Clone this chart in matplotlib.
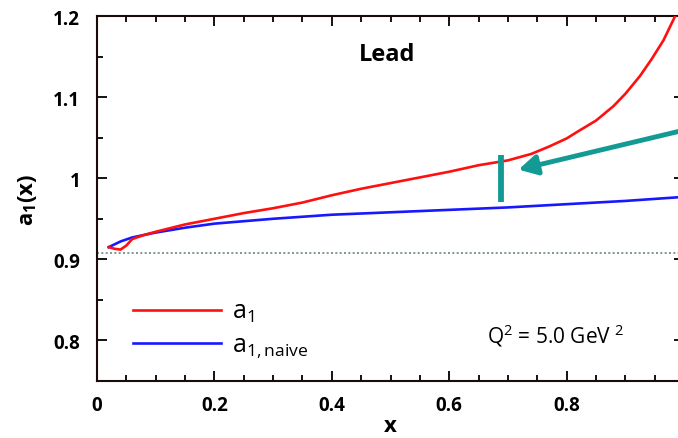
import matplotlib
matplotlib.use("Agg")
import matplotlib.pyplot as plt
from matplotlib.ticker import MultipleLocator, FixedLocator, FixedFormatter

plt.rcParams['font.family'] = ['Open Sans', 'DejaVu Sans']
plt.rcParams['mathtext.fontset'] = 'custom'
plt.rcParams['mathtext.rm'] = 'Open Sans'
plt.rcParams['mathtext.it'] = 'Open Sans:italic'
plt.rcParams['mathtext.bf'] = 'Open Sans:bold'

# Curve a_1(x) for lead at Q^2 = 5 GeV^2
x_a1 = [0.020, 0.030, 0.040, 0.050, 0.060, 0.080, 0.10, 0.15, 0.20, 0.25, 0.30,
        0.35, 0.40, 0.45, 0.50, 0.55, 0.60, 0.65, 0.70, 0.74, 0.77, 0.80, 0.82,
        0.85, 0.88, 0.90, 0.925, 0.945, 0.965, 0.985]
a1 = [0.915, 0.913, 0.912, 0.917, 0.925, 0.930, 0.934, 0.943, 0.950, 0.957, 0.963,
      0.970, 0.979, 0.987, 0.994, 1.001, 1.008, 1.016, 1.022, 1.030, 1.039, 1.049,
      1.058, 1.071, 1.089, 1.104, 1.126, 1.147, 1.170, 1.200]

# Naive estimate a_{1,naive}(x)
x_naive = [0.020, 0.040, 0.060, 0.10, 0.15, 0.20, 0.30, 0.40, 0.50, 0.60,
           0.70, 0.80, 0.90, 1.00]
a1_naive = [0.915, 0.922, 0.927, 0.933, 0.939, 0.944, 0.950, 0.955, 0.958, 0.961,
            0.964, 0.968, 0.972, 0.977]

baseline = 0.908          # horizontal reference level
marker_x = 0.689          # position of the vertical marker
marker_y = (0.971, 1.029)

x_ticks = [0, 0.2, 0.4, 0.6, 0.8]
x_tick_labels = ['0', '0.2', '0.4', '0.6', '0.8']
y_ticks = [0.8, 0.9, 1.0, 1.1, 1.2]
y_tick_labels = ['0.8', '0.9', '1', '1.1', '1.2']

fig = plt.figure(figsize=(6.78, 4.39), dpi=100)
ax = fig.add_axes([97/678, 1 - 382/439, (684 - 97)/678, (382 - 17)/439])

ax.axhline(baseline, color='#6f8583', lw=1.2, ls=(0, (1.2, 1.4)), zorder=1)
ax.plot(x_a1, a1, color='#ff1010', lw=1.9, label=r'a$_1$', zorder=3)
ax.plot(x_naive, a1_naive, color='#1818ff', lw=1.9,
        label=r'a$_{1,\mathrm{naive}}$', zorder=2)

teal = '#149a94'
ax.plot([marker_x, marker_x], marker_y, color=teal, lw=4.2, solid_capstyle='butt', zorder=4)
ax.annotate('', xy=(0.718, 1.0106), xytext=(1.01, 1.061), xycoords='data',
            annotation_clip=False,
            arrowprops=dict(arrowstyle='-|>,head_length=1.1,head_width=0.6',
                            color=teal, lw=3.5, shrinkA=0, shrinkB=0))

ax.set_xlim(0, 1.0)
ax.set_ylim(0.75, 1.2)

ax.xaxis.set_major_locator(FixedLocator(x_ticks))
ax.xaxis.set_major_formatter(FixedFormatter(x_tick_labels))
ax.yaxis.set_major_locator(FixedLocator(y_ticks))
ax.yaxis.set_major_formatter(FixedFormatter(y_tick_labels))
ax.xaxis.set_minor_locator(MultipleLocator(0.05))
ax.yaxis.set_minor_locator(MultipleLocator(0.05))

ax.tick_params(which='both', direction='in', top=True, right=True, width=1.3,
               colors='black')
ax.tick_params(which='major', length=7, labelsize=13.5)
ax.tick_params(axis='x', which='major', pad=10)
ax.tick_params(axis='y', which='major', pad=12)
ax.tick_params(which='minor', length=4)
for lab in ax.get_xticklabels() + ax.get_yticklabels():
    lab.set_fontweight('bold')
for sp in ax.spines.values():
    sp.set_linewidth(1.5)
    sp.set_color('#1a0a0a')

ax.set_xlabel('x', fontsize=16, fontweight='bold', labelpad=0)
ax.set_ylabel(r'a$_\mathbf{1}$(x)', fontsize=16, fontweight='bold', labelpad=10)

ax.text(0.494, 1.153, 'Lead', fontsize=17, fontweight='bold', ha='center', va='center')
ax.text(0.665, 0.807, r'Q$^2$ = 5.0 GeV $^2$', fontsize=15, ha='left', va='center')

leg = ax.legend(loc='lower left', bbox_to_anchor=(0.045, 0.029), frameon=False,
                fontsize=18, handlelength=3.5, handletextpad=0.45, labelspacing=0.35,
                borderaxespad=0)

fig.savefig('out.png', dpi=100)
